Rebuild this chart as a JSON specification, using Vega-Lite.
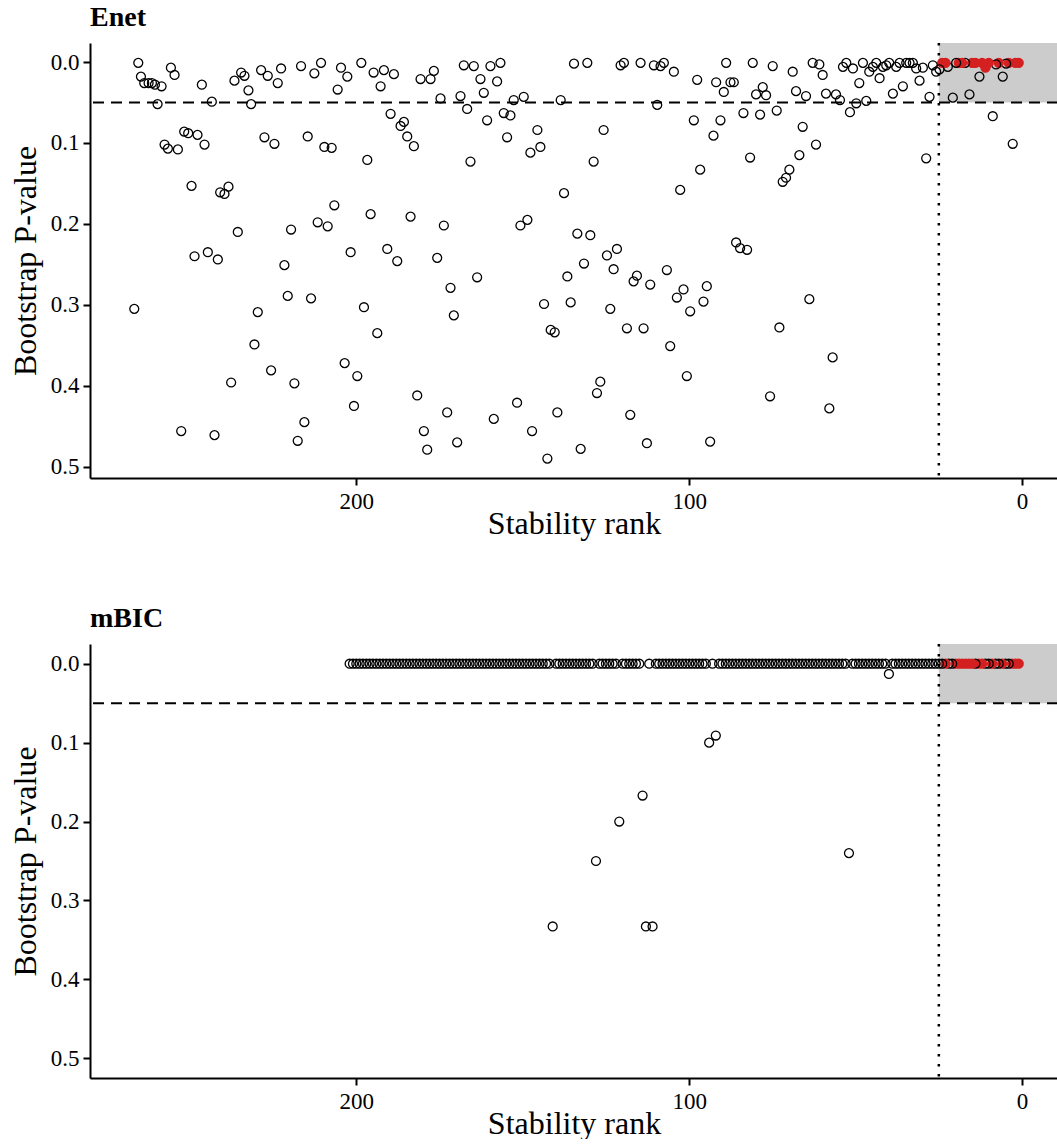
{
  "$schema": "https://vega.github.io/schema/vega-lite/v6.json",
  "padding": {"left": 9, "top": 3, "right": 0, "bottom": 0},
  "background": "white",
  "spacing": 65,
  "config": {
    "font": "Liberation Serif",
    "view": {"stroke": null},
    "axis": {"grid": false, "domainColor": "black", "domainWidth": 2, "tickColor": "black", "tickWidth": 2, "tickSize": 7, "labelFont": "Liberation Serif", "labelFontSize": 23, "labelColor": "black", "titleFont": "Liberation Serif", "titleFontSize": 32, "titleFontWeight": "normal", "titleColor": "black", "labelPadding": 4},
    "title": {"font": "Liberation Serif", "fontSize": 28, "fontWeight": "bold", "anchor": "start", "frame": "group", "color": "black", "offset": 10}
  },
  "datasets": {
    "box": [{"rank": 25, "rank2": -30, "p": -0.1, "p2": 0.05}],
    "enet": [
      {"rank": 1, "p": 0.001, "sel": "y"}, {"rank": 2, "p": 0.001, "sel": "y"}, {"rank": 2.8, "p": 0.101, "sel": "n"}, {"rank": 4, "p": 0.001, "sel": "y"}, {"rank": 4.8, "p": 0.002, "sel": "n"}, {"rank": 5.8, "p": 0.018, "sel": "n"}, {"rank": 7, "p": 0.001, "sel": "y"}, {"rank": 7.8, "p": 0.003, "sel": "n"}, {"rank": 8.8, "p": 0.067, "sel": "n"}, {"rank": 10, "p": 0.001, "sel": "y"}, {"rank": 11, "p": 0.007, "sel": "y"}, {"rank": 12, "p": 0.001, "sel": "y"}, {"rank": 12.8, "p": 0.018, "sel": "n"}, {"rank": 14, "p": 0.001, "sel": "y"}, {"rank": 15, "p": 0.001, "sel": "y"}, {"rank": 15.8, "p": 0.04, "sel": "n"}, {"rank": 17.1, "p": 0.001, "sel": "n"}, {"rank": 18, "p": 0.001, "sel": "y"}, {"rank": 19, "p": 0.001, "sel": "y"}, {"rank": 19.8, "p": 0.001, "sel": "n"}, {"rank": 20.8, "p": 0.044, "sel": "n"}, {"rank": 22.3, "p": 0.006, "sel": "n"}, {"rank": 23, "p": 0.001, "sel": "y"}, {"rank": 24, "p": 0.001, "sel": "y"}, {"rank": 24.8, "p": 0.009, "sel": "n"},
      {"rank": 25.8, "p": 0.012, "sel": "n"}, {"rank": 26.8, "p": 0.004, "sel": "n"}, {"rank": 27.8, "p": 0.043, "sel": "n"}, {"rank": 28.8, "p": 0.119, "sel": "n"}, {"rank": 29.8, "p": 0.007, "sel": "n"}, {"rank": 30.8, "p": 0.023, "sel": "n"}, {"rank": 31.8, "p": 0.008, "sel": "n"}, {"rank": 32.8, "p": 0.001, "sel": "n"}, {"rank": 33.8, "p": 0.001, "sel": "n"}, {"rank": 34.8, "p": 0.001, "sel": "n"}, {"rank": 35.8, "p": 0.03, "sel": "n"}, {"rank": 36.8, "p": 0.001, "sel": "n"}, {"rank": 37.8, "p": 0.006, "sel": "n"}, {"rank": 38.8, "p": 0.039, "sel": "n"}, {"rank": 39.9, "p": 0.001, "sel": "n"}, {"rank": 40.8, "p": 0.004, "sel": "n"}, {"rank": 41.8, "p": 0.006, "sel": "n"}, {"rank": 42.8, "p": 0.02, "sel": "n"}, {"rank": 43.8, "p": 0.001, "sel": "n"}, {"rank": 44.8, "p": 0.006, "sel": "n"}, {"rank": 45.9, "p": 0.012, "sel": "n"}, {"rank": 46.8, "p": 0.048, "sel": "n"}, {"rank": 47.8, "p": 0.001, "sel": "n"}, {"rank": 48.9, "p": 0.026, "sel": "n"}, {"rank": 49.8, "p": 0.051, "sel": "n"}, {"rank": 50.8, "p": 0.008, "sel": "n"}, {"rank": 51.7, "p": 0.062, "sel": "n"}, {"rank": 52.8, "p": 0.001, "sel": "n"}, {"rank": 53.8, "p": 0.006, "sel": "n"}, {"rank": 54.7, "p": 0.047, "sel": "n"}, {"rank": 55.9, "p": 0.04, "sel": "n"}, {"rank": 56.9, "p": 0.365, "sel": "n"}, {"rank": 57.9, "p": 0.428, "sel": "n"}, {"rank": 58.9, "p": 0.039, "sel": "n"}, {"rank": 59.9, "p": 0.016, "sel": "n"}, {"rank": 60.9, "p": 0.003, "sel": "n"}, {"rank": 61.9, "p": 0.102, "sel": "n"}, {"rank": 62.9, "p": 0.001, "sel": "n"}, {"rank": 63.9, "p": 0.293, "sel": "n"}, {"rank": 64.9, "p": 0.042, "sel": "n"}, {"rank": 65.9, "p": 0.08, "sel": "n"}, {"rank": 66.9, "p": 0.115, "sel": "n"}, {"rank": 67.9, "p": 0.036, "sel": "n"}, {"rank": 68.9, "p": 0.012, "sel": "n"}, {"rank": 69.9, "p": 0.133, "sel": "n"}, {"rank": 70.9, "p": 0.143, "sel": "n"}, {"rank": 71.9, "p": 0.148, "sel": "n"}, {"rank": 72.9, "p": 0.328, "sel": "n"}, {"rank": 73.7, "p": 0.06, "sel": "n"}, {"rank": 74.9, "p": 0.005, "sel": "n"}, {"rank": 75.7, "p": 0.413, "sel": "n"}, {"rank": 76.9, "p": 0.041, "sel": "n"}, {"rank": 77.9, "p": 0.031, "sel": "n"}, {"rank": 78.7, "p": 0.065, "sel": "n"}, {"rank": 79.9, "p": 0.04, "sel": "n"}, {"rank": 80.9, "p": 0.001, "sel": "n"}, {"rank": 81.7, "p": 0.118, "sel": "n"}, {"rank": 82.6, "p": 0.232, "sel": "n"}, {"rank": 83.7, "p": 0.063, "sel": "n"}, {"rank": 84.7, "p": 0.23, "sel": "n"}, {"rank": 85.9, "p": 0.223, "sel": "n"}, {"rank": 86.6, "p": 0.025, "sel": "n"}, {"rank": 87.6, "p": 0.025, "sel": "n"}, {"rank": 88.9, "p": 0.001, "sel": "n"}, {"rank": 89.6, "p": 0.037, "sel": "n"}, {"rank": 90.6, "p": 0.072, "sel": "n"}, {"rank": 91.9, "p": 0.025, "sel": "n"}, {"rank": 92.7, "p": 0.091, "sel": "n"}, {"rank": 93.7, "p": 0.469, "sel": "n"}, {"rank": 94.7, "p": 0.277, "sel": "n"}, {"rank": 95.7, "p": 0.296, "sel": "n"}, {"rank": 96.7, "p": 0.133, "sel": "n"}, {"rank": 97.6, "p": 0.022, "sel": "n"}, {"rank": 98.6, "p": 0.072, "sel": "n"}, {"rank": 99.7, "p": 0.308, "sel": "n"}, {"rank": 100.7, "p": 0.388, "sel": "n"}, {"rank": 101.7, "p": 0.281, "sel": "n"}, {"rank": 102.7, "p": 0.158, "sel": "n"}, {"rank": 103.7, "p": 0.291, "sel": "n"}, {"rank": 104.6, "p": 0.012, "sel": "n"}, {"rank": 105.7, "p": 0.351, "sel": "n"}, {"rank": 106.7, "p": 0.257, "sel": "n"}, {"rank": 107.6, "p": 0.001, "sel": "n"}, {"rank": 108.6, "p": 0.005, "sel": "n"}, {"rank": 109.6, "p": 0.053, "sel": "n"}, {"rank": 110.6, "p": 0.004, "sel": "n"}, {"rank": 111.7, "p": 0.275, "sel": "n"}, {"rank": 112.7, "p": 0.471, "sel": "n"}, {"rank": 113.7, "p": 0.329, "sel": "n"}, {"rank": 114.6, "p": 0.001, "sel": "n"}, {"rank": 115.7, "p": 0.264, "sel": "n"}, {"rank": 116.7, "p": 0.271, "sel": "n"}, {"rank": 117.7, "p": 0.436, "sel": "n"}, {"rank": 118.7, "p": 0.329, "sel": "n"}, {"rank": 119.6, "p": 0.001, "sel": "n"}, {"rank": 120.6, "p": 0.004, "sel": "n"}, {"rank": 121.7, "p": 0.231, "sel": "n"}, {"rank": 122.7, "p": 0.256, "sel": "n"}, {"rank": 123.7, "p": 0.305, "sel": "n"}, {"rank": 124.7, "p": 0.239, "sel": "n"}, {"rank": 125.7, "p": 0.084, "sel": "n"}, {"rank": 126.7, "p": 0.395, "sel": "n"}, {"rank": 127.7, "p": 0.409, "sel": "n"}, {"rank": 128.7, "p": 0.123, "sel": "n"}, {"rank": 129.7, "p": 0.214, "sel": "n"}, {"rank": 130.6, "p": 0.001, "sel": "n"}, {"rank": 131.6, "p": 0.249, "sel": "n"}, {"rank": 132.6, "p": 0.478, "sel": "n"}, {"rank": 133.6, "p": 0.212, "sel": "n"}, {"rank": 134.6, "p": 0.002, "sel": "n"}, {"rank": 135.6, "p": 0.297, "sel": "n"}, {"rank": 136.6, "p": 0.265, "sel": "n"}, {"rank": 137.6, "p": 0.162, "sel": "n"}, {"rank": 138.6, "p": 0.047, "sel": "n"}, {"rank": 139.6, "p": 0.433, "sel": "n"}, {"rank": 140.4, "p": 0.334, "sel": "n"}, {"rank": 141.6, "p": 0.331, "sel": "n"}, {"rank": 142.6, "p": 0.49, "sel": "n"}, {"rank": 143.6, "p": 0.299, "sel": "n"}, {"rank": 144.7, "p": 0.105, "sel": "n"}, {"rank": 145.6, "p": 0.084, "sel": "n"}, {"rank": 147.2, "p": 0.456, "sel": "n"}, {"rank": 147.7, "p": 0.112, "sel": "n"}, {"rank": 148.6, "p": 0.195, "sel": "n"}, {"rank": 149.7, "p": 0.043, "sel": "n"}, {"rank": 150.7, "p": 0.202, "sel": "n"}, {"rank": 151.7, "p": 0.421, "sel": "n"}, {"rank": 152.7, "p": 0.047, "sel": "n"}, {"rank": 153.7, "p": 0.066, "sel": "n"}, {"rank": 154.7, "p": 0.093, "sel": "n"}, {"rank": 155.7, "p": 0.063, "sel": "n"}, {"rank": 156.7, "p": 0.001, "sel": "n"}, {"rank": 157.7, "p": 0.024, "sel": "n"}, {"rank": 158.7, "p": 0.441, "sel": "n"}, {"rank": 159.7, "p": 0.005, "sel": "n"}, {"rank": 160.7, "p": 0.072, "sel": "n"}, {"rank": 161.7, "p": 0.038, "sel": "n"}, {"rank": 162.7, "p": 0.021, "sel": "n"}, {"rank": 163.7, "p": 0.266, "sel": "n"}, {"rank": 164.7, "p": 0.005, "sel": "n"}, {"rank": 165.7, "p": 0.123, "sel": "n"}, {"rank": 166.7, "p": 0.058, "sel": "n"}, {"rank": 167.7, "p": 0.004, "sel": "n"}, {"rank": 168.7, "p": 0.042, "sel": "n"}, {"rank": 169.7, "p": 0.47, "sel": "n"}, {"rank": 170.7, "p": 0.313, "sel": "n"}, {"rank": 171.7, "p": 0.279, "sel": "n"}, {"rank": 172.7, "p": 0.433, "sel": "n"}, {"rank": 173.7, "p": 0.202, "sel": "n"}, {"rank": 174.7, "p": 0.045, "sel": "n"}, {"rank": 175.7, "p": 0.242, "sel": "n"}, {"rank": 176.7, "p": 0.011, "sel": "n"}, {"rank": 177.7, "p": 0.021, "sel": "n"}, {"rank": 178.7, "p": 0.479, "sel": "n"}, {"rank": 179.7, "p": 0.456, "sel": "n"}, {"rank": 180.7, "p": 0.021, "sel": "n"}, {"rank": 181.7, "p": 0.412, "sel": "n"}, {"rank": 182.7, "p": 0.104, "sel": "n"}, {"rank": 183.7, "p": 0.191, "sel": "n"}, {"rank": 184.7, "p": 0.092, "sel": "n"}, {"rank": 185.7, "p": 0.074, "sel": "n"}, {"rank": 186.7, "p": 0.079, "sel": "n"}, {"rank": 187.7, "p": 0.246, "sel": "n"}, {"rank": 188.7, "p": 0.015, "sel": "n"}, {"rank": 189.7, "p": 0.064, "sel": "n"}, {"rank": 190.7, "p": 0.231, "sel": "n"}, {"rank": 191.7, "p": 0.01, "sel": "n"}, {"rank": 192.7, "p": 0.03, "sel": "n"}, {"rank": 193.7, "p": 0.335, "sel": "n"}, {"rank": 194.8, "p": 0.013, "sel": "n"}, {"rank": 195.7, "p": 0.188, "sel": "n"}, {"rank": 196.7, "p": 0.121, "sel": "n"}, {"rank": 197.7, "p": 0.303, "sel": "n"}, {"rank": 198.5, "p": 0.001, "sel": "n"}, {"rank": 199.7, "p": 0.388, "sel": "n"}, {"rank": 200.7, "p": 0.425, "sel": "n"}, {"rank": 201.7, "p": 0.235, "sel": "n"}, {"rank": 202.7, "p": 0.018, "sel": "n"}, {"rank": 203.5, "p": 0.372, "sel": "n"}, {"rank": 204.6, "p": 0.007, "sel": "n"}, {"rank": 205.6, "p": 0.034, "sel": "n"}, {"rank": 206.6, "p": 0.177, "sel": "n"}, {"rank": 207.4, "p": 0.106, "sel": "n"}, {"rank": 208.6, "p": 0.203, "sel": "n"}, {"rank": 209.6, "p": 0.105, "sel": "n"}, {"rank": 210.6, "p": 0.001, "sel": "n"}, {"rank": 211.6, "p": 0.198, "sel": "n"}, {"rank": 212.6, "p": 0.014, "sel": "n"}, {"rank": 213.6, "p": 0.292, "sel": "n"}, {"rank": 214.6, "p": 0.092, "sel": "n"}, {"rank": 215.6, "p": 0.445, "sel": "n"}, {"rank": 216.6, "p": 0.005, "sel": "n"}, {"rank": 217.6, "p": 0.468, "sel": "n"}, {"rank": 218.6, "p": 0.397, "sel": "n"}, {"rank": 219.6, "p": 0.207, "sel": "n"}, {"rank": 220.6, "p": 0.289, "sel": "n"}, {"rank": 221.6, "p": 0.251, "sel": "n"}, {"rank": 222.6, "p": 0.008, "sel": "n"}, {"rank": 223.6, "p": 0.026, "sel": "n"}, {"rank": 224.6, "p": 0.101, "sel": "n"}, {"rank": 225.6, "p": 0.381, "sel": "n"}, {"rank": 226.6, "p": 0.017, "sel": "n"}, {"rank": 227.6, "p": 0.093, "sel": "n"}, {"rank": 228.6, "p": 0.01, "sel": "n"}, {"rank": 229.6, "p": 0.309, "sel": "n"}, {"rank": 230.6, "p": 0.349, "sel": "n"}, {"rank": 231.6, "p": 0.052, "sel": "n"}, {"rank": 232.4, "p": 0.035, "sel": "n"}, {"rank": 233.6, "p": 0.017, "sel": "n"}, {"rank": 234.6, "p": 0.013, "sel": "n"}, {"rank": 235.6, "p": 0.21, "sel": "n"}, {"rank": 236.6, "p": 0.023, "sel": "n"}, {"rank": 237.6, "p": 0.396, "sel": "n"}, {"rank": 238.4, "p": 0.154, "sel": "n"}, {"rank": 239.6, "p": 0.163, "sel": "n"}, {"rank": 240.9, "p": 0.161, "sel": "n"}, {"rank": 241.6, "p": 0.244, "sel": "n"}, {"rank": 242.6, "p": 0.461, "sel": "n"}, {"rank": 243.4, "p": 0.049, "sel": "n"}, {"rank": 244.6, "p": 0.235, "sel": "n"}, {"rank": 245.6, "p": 0.102, "sel": "n"}, {"rank": 246.4, "p": 0.028, "sel": "n"}, {"rank": 247.7, "p": 0.09, "sel": "n"}, {"rank": 248.6, "p": 0.24, "sel": "n"}, {"rank": 249.5, "p": 0.153, "sel": "n"}, {"rank": 250.5, "p": 0.088, "sel": "n"}, {"rank": 251.7, "p": 0.086, "sel": "n"}, {"rank": 252.6, "p": 0.456, "sel": "n"}, {"rank": 253.6, "p": 0.108, "sel": "n"}, {"rank": 254.6, "p": 0.016, "sel": "n"}, {"rank": 255.7, "p": 0.007, "sel": "n"}, {"rank": 256.6, "p": 0.107, "sel": "n"}, {"rank": 257.6, "p": 0.102, "sel": "n"}, {"rank": 258.5, "p": 0.03, "sel": "n"}, {"rank": 259.7, "p": 0.052, "sel": "n"}, {"rank": 260.5, "p": 0.028, "sel": "n"}, {"rank": 261.4, "p": 0.026, "sel": "n"}, {"rank": 262.4, "p": 0.026, "sel": "n"}, {"rank": 263.7, "p": 0.026, "sel": "n"}, {"rank": 264.7, "p": 0.018, "sel": "n"}, {"rank": 265.5, "p": 0.001, "sel": "n"}, {"rank": 266.7, "p": 0.305, "sel": "n"}
    ],
    "mbic": [
      {"rank": 1, "p": 0, "sel": "y"}, {"rank": 2, "p": 0, "sel": "y"}, {"rank": 3, "p": 0, "sel": "y"}, {"rank": 4, "p": 0, "sel": "n"}, {"rank": 5, "p": 0, "sel": "n"}, {"rank": 6, "p": 0, "sel": "y"}, {"rank": 7, "p": 0, "sel": "n"}, {"rank": 8, "p": 0, "sel": "n"}, {"rank": 9, "p": 0, "sel": "y"}, {"rank": 10, "p": 0, "sel": "n"}, {"rank": 11, "p": 0, "sel": "n"}, {"rank": 12, "p": 0, "sel": "y"}, {"rank": 13, "p": 0, "sel": "y"}, {"rank": 14, "p": 0, "sel": "n"}, {"rank": 15, "p": 0, "sel": "y"}, {"rank": 16, "p": 0, "sel": "y"}, {"rank": 17, "p": 0, "sel": "y"}, {"rank": 18, "p": 0, "sel": "y"}, {"rank": 19, "p": 0, "sel": "y"}, {"rank": 20, "p": 0, "sel": "y"}, {"rank": 21, "p": 0, "sel": "n"}, {"rank": 22, "p": 0, "sel": "n"}, {"rank": 23, "p": 0, "sel": "y"}, {"rank": 24, "p": 0, "sel": "n"}, {"rank": 25, "p": 0, "sel": "n"},
      {"rank": 26, "p": 0, "sel": "n"}, {"rank": 27, "p": 0, "sel": "n"}, {"rank": 28, "p": 0, "sel": "n"}, {"rank": 29, "p": 0, "sel": "n"}, {"rank": 30, "p": 0, "sel": "n"}, {"rank": 31, "p": 0, "sel": "n"}, {"rank": 32, "p": 0, "sel": "n"}, {"rank": 33, "p": 0, "sel": "n"}, {"rank": 34, "p": 0, "sel": "n"}, {"rank": 35, "p": 0, "sel": "n"}, {"rank": 36, "p": 0, "sel": "n"}, {"rank": 37, "p": 0, "sel": "n"}, {"rank": 38, "p": 0, "sel": "n"}, {"rank": 39, "p": 0, "sel": "n"}, {"rank": 40, "p": 0.013, "sel": "n"}, {"rank": 41, "p": 0, "sel": "n"}, {"rank": 42, "p": 0, "sel": "n"}, {"rank": 43, "p": 0, "sel": "n"}, {"rank": 44, "p": 0, "sel": "n"}, {"rank": 45, "p": 0, "sel": "n"}, {"rank": 46, "p": 0, "sel": "n"}, {"rank": 47, "p": 0, "sel": "n"}, {"rank": 48, "p": 0, "sel": "n"}, {"rank": 49, "p": 0, "sel": "n"}, {"rank": 50, "p": 0, "sel": "n"}, {"rank": 51, "p": 0, "sel": "n"}, {"rank": 52, "p": 0.24, "sel": "n"}, {"rank": 53, "p": 0, "sel": "n"}, {"rank": 54, "p": 0, "sel": "n"}, {"rank": 55, "p": 0, "sel": "n"}, {"rank": 56, "p": 0, "sel": "n"}, {"rank": 57, "p": 0, "sel": "n"}, {"rank": 58, "p": 0, "sel": "n"}, {"rank": 59, "p": 0, "sel": "n"}, {"rank": 60, "p": 0, "sel": "n"}, {"rank": 61, "p": 0, "sel": "n"}, {"rank": 62, "p": 0, "sel": "n"}, {"rank": 63, "p": 0, "sel": "n"}, {"rank": 64, "p": 0, "sel": "n"}, {"rank": 65, "p": 0, "sel": "n"}, {"rank": 66, "p": 0, "sel": "n"}, {"rank": 67, "p": 0, "sel": "n"}, {"rank": 68, "p": 0, "sel": "n"}, {"rank": 69, "p": 0, "sel": "n"}, {"rank": 70, "p": 0, "sel": "n"}, {"rank": 71, "p": 0, "sel": "n"}, {"rank": 72, "p": 0, "sel": "n"}, {"rank": 73, "p": 0, "sel": "n"}, {"rank": 74, "p": 0, "sel": "n"}, {"rank": 75, "p": 0, "sel": "n"}, {"rank": 76, "p": 0, "sel": "n"}, {"rank": 77, "p": 0, "sel": "n"}, {"rank": 78, "p": 0, "sel": "n"}, {"rank": 79, "p": 0, "sel": "n"}, {"rank": 80, "p": 0, "sel": "n"}, {"rank": 81, "p": 0, "sel": "n"}, {"rank": 82, "p": 0, "sel": "n"}, {"rank": 83, "p": 0, "sel": "n"}, {"rank": 84, "p": 0, "sel": "n"}, {"rank": 85, "p": 0, "sel": "n"}, {"rank": 86, "p": 0, "sel": "n"}, {"rank": 87, "p": 0, "sel": "n"}, {"rank": 88, "p": 0, "sel": "n"}, {"rank": 89, "p": 0, "sel": "n"}, {"rank": 90, "p": 0, "sel": "n"}, {"rank": 91, "p": 0, "sel": "n"}, {"rank": 92, "p": 0.091, "sel": "n"}, {"rank": 93, "p": 0, "sel": "n"}, {"rank": 94, "p": 0.1, "sel": "n"}, {"rank": 95, "p": 0, "sel": "n"}, {"rank": 96, "p": 0, "sel": "n"}, {"rank": 97, "p": 0, "sel": "n"}, {"rank": 98, "p": 0, "sel": "n"}, {"rank": 99, "p": 0, "sel": "n"}, {"rank": 100, "p": 0, "sel": "n"},
      {"rank": 101, "p": 0, "sel": "n"}, {"rank": 102, "p": 0, "sel": "n"}, {"rank": 103, "p": 0, "sel": "n"}, {"rank": 104, "p": 0, "sel": "n"}, {"rank": 105, "p": 0, "sel": "n"}, {"rank": 106, "p": 0, "sel": "n"}, {"rank": 107, "p": 0, "sel": "n"}, {"rank": 108, "p": 0, "sel": "n"}, {"rank": 109, "p": 0, "sel": "n"}, {"rank": 110, "p": 0, "sel": "n"}, {"rank": 111, "p": 0.333, "sel": "n"}, {"rank": 112, "p": 0, "sel": "n"}, {"rank": 113, "p": 0.333, "sel": "n"}, {"rank": 114, "p": 0.167, "sel": "n"}, {"rank": 115, "p": 0, "sel": "n"}, {"rank": 116, "p": 0, "sel": "n"}, {"rank": 117, "p": 0, "sel": "n"}, {"rank": 118, "p": 0, "sel": "n"}, {"rank": 119, "p": 0, "sel": "n"}, {"rank": 120, "p": 0, "sel": "n"}, {"rank": 121, "p": 0.2, "sel": "n"}, {"rank": 122, "p": 0, "sel": "n"}, {"rank": 123, "p": 0, "sel": "n"}, {"rank": 124, "p": 0, "sel": "n"}, {"rank": 125, "p": 0, "sel": "n"}, {"rank": 126, "p": 0, "sel": "n"}, {"rank": 127, "p": 0, "sel": "n"}, {"rank": 128, "p": 0.25, "sel": "n"}, {"rank": 129, "p": 0, "sel": "n"}, {"rank": 130, "p": 0, "sel": "n"}, {"rank": 131, "p": 0, "sel": "n"}, {"rank": 132, "p": 0, "sel": "n"}, {"rank": 133, "p": 0, "sel": "n"}, {"rank": 134, "p": 0, "sel": "n"}, {"rank": 135, "p": 0, "sel": "n"}, {"rank": 136, "p": 0, "sel": "n"}, {"rank": 137, "p": 0, "sel": "n"}, {"rank": 138, "p": 0, "sel": "n"}, {"rank": 139, "p": 0, "sel": "n"}, {"rank": 140, "p": 0, "sel": "n"}, {"rank": 141, "p": 0.333, "sel": "n"}, {"rank": 142, "p": 0, "sel": "n"}, {"rank": 143, "p": 0, "sel": "n"}, {"rank": 144, "p": 0, "sel": "n"}, {"rank": 145, "p": 0, "sel": "n"}, {"rank": 146, "p": 0, "sel": "n"}, {"rank": 147, "p": 0, "sel": "n"}, {"rank": 148, "p": 0, "sel": "n"}, {"rank": 149, "p": 0, "sel": "n"}, {"rank": 150, "p": 0, "sel": "n"}, {"rank": 151, "p": 0, "sel": "n"}, {"rank": 152, "p": 0, "sel": "n"}, {"rank": 153, "p": 0, "sel": "n"}, {"rank": 154, "p": 0, "sel": "n"}, {"rank": 155, "p": 0, "sel": "n"}, {"rank": 156, "p": 0, "sel": "n"}, {"rank": 157, "p": 0, "sel": "n"}, {"rank": 158, "p": 0, "sel": "n"}, {"rank": 159, "p": 0, "sel": "n"}, {"rank": 160, "p": 0, "sel": "n"}, {"rank": 161, "p": 0, "sel": "n"}, {"rank": 162, "p": 0, "sel": "n"}, {"rank": 163, "p": 0, "sel": "n"}, {"rank": 164, "p": 0, "sel": "n"}, {"rank": 165, "p": 0, "sel": "n"}, {"rank": 166, "p": 0, "sel": "n"}, {"rank": 167, "p": 0, "sel": "n"}, {"rank": 168, "p": 0, "sel": "n"}, {"rank": 169, "p": 0, "sel": "n"}, {"rank": 170, "p": 0, "sel": "n"}, {"rank": 171, "p": 0, "sel": "n"}, {"rank": 172, "p": 0, "sel": "n"}, {"rank": 173, "p": 0, "sel": "n"}, {"rank": 174, "p": 0, "sel": "n"}, {"rank": 175, "p": 0, "sel": "n"}, {"rank": 176, "p": 0, "sel": "n"}, {"rank": 177, "p": 0, "sel": "n"}, {"rank": 178, "p": 0, "sel": "n"}, {"rank": 179, "p": 0, "sel": "n"}, {"rank": 180, "p": 0, "sel": "n"}, {"rank": 181, "p": 0, "sel": "n"}, {"rank": 182, "p": 0, "sel": "n"}, {"rank": 183, "p": 0, "sel": "n"}, {"rank": 184, "p": 0, "sel": "n"}, {"rank": 185, "p": 0, "sel": "n"}, {"rank": 186, "p": 0, "sel": "n"}, {"rank": 187, "p": 0, "sel": "n"}, {"rank": 188, "p": 0, "sel": "n"}, {"rank": 189, "p": 0, "sel": "n"}, {"rank": 190, "p": 0, "sel": "n"}, {"rank": 191, "p": 0, "sel": "n"}, {"rank": 192, "p": 0, "sel": "n"}, {"rank": 193, "p": 0, "sel": "n"}, {"rank": 194, "p": 0, "sel": "n"}, {"rank": 195, "p": 0, "sel": "n"}, {"rank": 196, "p": 0, "sel": "n"}, {"rank": 197, "p": 0, "sel": "n"}, {"rank": 198, "p": 0, "sel": "n"}, {"rank": 199, "p": 0, "sel": "n"}, {"rank": 200, "p": 0, "sel": "n"}, {"rank": 201, "p": 0, "sel": "n"}, {"rank": 202, "p": 0, "sel": "n"}
    ]
  },
  "vconcat": [
    {
      "title": {"text": "Enet"},
      "width": 968,
      "height": 435,
      "layer": [
        {"data": {"name": "box"}, "mark": {"type": "rect", "color": "#CCCCCC", "clip": true},
         "encoding": {
           "x": {"field": "rank", "type": "quantitative", "scale": {"domain": [-10.8, 280], "reverse": true, "nice": false, "zero": false}, "axis": {"title": "Stability rank", "values": [0, 100, 200], "format": "d", "labelPadding": 5, "titlePadding": -5}},
           "x2": {"field": "rank2"},
           "y": {"field": "p", "type": "quantitative", "scale": {"domain": [-0.0235, 0.514], "reverse": true, "nice": false, "zero": false}, "axis": {"title": "Bootstrap P-value", "values": [0, 0.1, 0.2, 0.3, 0.4, 0.5], "format": ".1f", "titlePadding": 8}},
           "y2": {"field": "p2"}}},
        {"data": {"name": "box"}, "mark": {"type": "rule", "strokeDash": [11, 7], "strokeWidth": 2, "color": "black"},
         "encoding": {"y": {"datum": 0.05, "type": "quantitative", "scale": {"domain": [-0.0235, 0.514], "reverse": true, "nice": false, "zero": false}, "axis": {"title": "Bootstrap P-value", "values": [0, 0.1, 0.2, 0.3, 0.4, 0.5], "format": ".1f", "titlePadding": 8}}}},
        {"data": {"name": "box"}, "mark": {"type": "rule", "strokeDash": [2.5, 7.5], "strokeWidth": 2.5, "color": "black"},
         "encoding": {"x": {"datum": 25, "type": "quantitative", "scale": {"domain": [-10.8, 280], "reverse": true, "nice": false, "zero": false}, "axis": {"title": "Stability rank", "values": [0, 100, 200], "format": "d", "labelPadding": 5, "titlePadding": -5}}}},
        {"data": {"name": "enet"}, "mark": {"type": "point", "shape": "circle", "size": 80, "strokeWidth": 1.3, "opacity": 1},
         "encoding": {
           "x": {"field": "rank", "type": "quantitative", "scale": {"domain": [-10.8, 280], "reverse": true, "nice": false, "zero": false}, "axis": {"title": "Stability rank", "values": [0, 100, 200], "format": "d", "labelPadding": 5, "titlePadding": -5}},
           "y": {"field": "p", "type": "quantitative", "scale": {"domain": [-0.0235, 0.514], "reverse": true, "nice": false, "zero": false}, "axis": {"title": "Bootstrap P-value", "values": [0, 0.1, 0.2, 0.3, 0.4, 0.5], "format": ".1f", "titlePadding": 8}},
           "fill": {"field": "sel", "type": "nominal", "scale": {"domain": ["n", "y"], "range": ["transparent", "#D42020"]}, "legend": null},
           "stroke": {"field": "sel", "type": "nominal", "scale": {"domain": ["n", "y"], "range": ["black", "#D42020"]}, "legend": null}}}
      ]
    },
    {
      "title": {"text": "mBIC"},
      "width": 968,
      "height": 434,
      "layer": [
        {"data": {"name": "box"}, "mark": {"type": "rect", "color": "#CCCCCC", "clip": true},
         "encoding": {
           "x": {"field": "rank", "type": "quantitative", "scale": {"domain": [-10.8, 280], "reverse": true, "nice": false, "zero": false}, "axis": {"title": "Stability rank", "values": [0, 100, 200], "format": "d", "labelPadding": 5, "titlePadding": -5}},
           "x2": {"field": "rank2"},
           "y": {"field": "p", "type": "quantitative", "scale": {"domain": [-0.025, 0.525], "reverse": true, "nice": false, "zero": false}, "axis": {"title": "Bootstrap P-value", "values": [0, 0.1, 0.2, 0.3, 0.4, 0.5], "format": ".1f", "titlePadding": 8}},
           "y2": {"field": "p2"}}},
        {"data": {"name": "box"}, "mark": {"type": "rule", "strokeDash": [11, 7], "strokeWidth": 2, "color": "black"},
         "encoding": {"y": {"datum": 0.05, "type": "quantitative", "scale": {"domain": [-0.025, 0.525], "reverse": true, "nice": false, "zero": false}, "axis": {"title": "Bootstrap P-value", "values": [0, 0.1, 0.2, 0.3, 0.4, 0.5], "format": ".1f", "titlePadding": 8}}}},
        {"data": {"name": "box"}, "mark": {"type": "rule", "strokeDash": [2.5, 7.5], "strokeWidth": 2.5, "color": "black"},
         "encoding": {"x": {"datum": 25, "type": "quantitative", "scale": {"domain": [-10.8, 280], "reverse": true, "nice": false, "zero": false}, "axis": {"title": "Stability rank", "values": [0, 100, 200], "format": "d", "labelPadding": 5, "titlePadding": -5}}}},
        {"data": {"name": "mbic"}, "mark": {"type": "point", "shape": "circle", "size": 80, "strokeWidth": 1.3, "opacity": 1},
         "encoding": {
           "x": {"field": "rank", "type": "quantitative", "scale": {"domain": [-10.8, 280], "reverse": true, "nice": false, "zero": false}, "axis": {"title": "Stability rank", "values": [0, 100, 200], "format": "d", "labelPadding": 5, "titlePadding": -5}},
           "y": {"field": "p", "type": "quantitative", "scale": {"domain": [-0.025, 0.525], "reverse": true, "nice": false, "zero": false}, "axis": {"title": "Bootstrap P-value", "values": [0, 0.1, 0.2, 0.3, 0.4, 0.5], "format": ".1f", "titlePadding": 8}},
           "fill": {"field": "sel", "type": "nominal", "scale": {"domain": ["n", "y"], "range": ["transparent", "#D42020"]}, "legend": null},
           "stroke": {"field": "sel", "type": "nominal", "scale": {"domain": ["n", "y"], "range": ["black", "#D42020"]}, "legend": null}}}
      ]
    }
  ]
}
